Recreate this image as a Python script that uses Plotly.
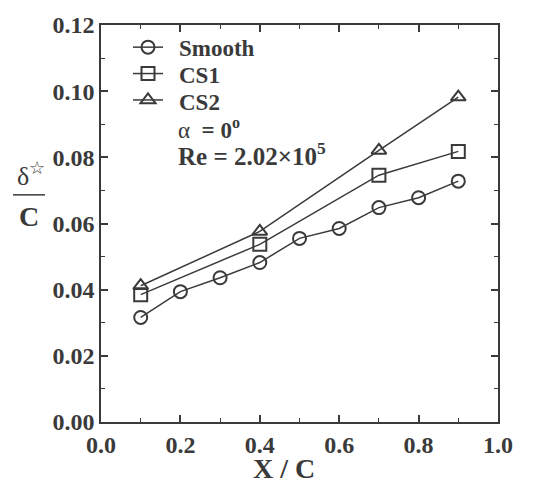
import plotly.graph_objects as go

smooth_x = [0.1, 0.2, 0.3, 0.4, 0.5, 0.6, 0.7, 0.8, 0.9]
smooth_y = [0.0316, 0.0394, 0.0436, 0.0482, 0.0555, 0.0585, 0.0648, 0.0678, 0.0728]
cs1_x = [0.1, 0.4, 0.7, 0.9]
cs1_y = [0.0385, 0.0537, 0.0746, 0.0818]
cs2_x = [0.1, 0.4, 0.7, 0.9]
cs2_y = [0.0412, 0.0576, 0.0821, 0.0982]
series_names = ["Smooth", "CS1", "CS2"]

C = "#3a3a3a"
FONT = "Liberation Serif"
W, H = 533, 485
ML, MR, MT, MB = 101, 35, 20, 63
PW, PH = W - ML - MR, H - MT - MB


def px(x):
    return (x - ML) / PW


def py(y):
    return (H - MB - y) / PH


fig = go.Figure()
for name, xs, ys, sym in [(series_names[0], smooth_x, smooth_y, "circle-open"),
                          (series_names[1], cs1_x, cs1_y, "square-open"),
                          (series_names[2], cs2_x, cs2_y, "triangle-up-open")]:
    fig.add_trace(go.Scatter(x=xs, y=ys, name=name, mode="lines+markers",
                             line=dict(color=C, width=1.5),
                             marker=dict(symbol=sym, size=13, color=C, line=dict(width=2, color=C))))

axis_common = dict(showline=True, linecolor=C, linewidth=1.5, mirror="ticks", ticks="inside",
                   ticklen=7, tickwidth=1.5, tickcolor=C, showgrid=False, zeroline=False,
                   tickfont=dict(family=FONT, size=24, color=C),
                   tickprefix="<b>", ticksuffix="</b>")
fig.update_xaxes(range=[0, 1.0], dtick=0.2, tickformat=".1f",
                 minor=dict(dtick=0.1, ticks="inside", ticklen=4, tickcolor=C, tickwidth=1.2),
                 **axis_common)
fig.update_yaxes(range=[0, 0.12], dtick=0.02, tickformat=".2f",
                 minor=dict(dtick=0.01, ticks="inside", ticklen=4, tickcolor=C, tickwidth=1.2),
                 **axis_common)

fig.update_layout(
    width=W, height=H,
    margin=dict(l=ML, r=MR, t=MT, b=MB),
    plot_bgcolor="white", paper_bgcolor="white",
    font=dict(family=FONT, color=C),
    showlegend=True,
    # native legend supplies the symbols; its own text is hidden and replaced by larger bold labels
    legend=dict(x=px(128), y=py(24), xanchor="left", yanchor="top",
                bgcolor="rgba(0,0,0,0)", font=dict(family=FONT, size=18, color="rgba(0,0,0,0)"),
                itemwidth=30, tracegroupgap=0),
)

rows = [44, 71, 98]
for name, ry in zip(series_names, rows):
    fig.add_annotation(xref="paper", yref="paper", x=px(177), y=py(ry), xanchor="left", yanchor="middle",
                       text=f"<b>{name}</b>", showarrow=False, font=dict(family=FONT, size=23, color=C))

fig.add_annotation(xref="paper", yref="paper", x=px(176), y=py(125), xanchor="left", yanchor="middle",
                   text="α  <b>= 0<sup>o</sup></b>", showarrow=False,
                   font=dict(family=FONT, size=23, color=C))
fig.add_annotation(xref="paper", yref="paper", x=px(176), y=py(151), xanchor="left", yanchor="middle",
                   text="<b>Re = 2.02×10<sup>5</sup></b>", showarrow=False,
                   font=dict(family=FONT, size=25, color=C))
# x-axis title
fig.add_annotation(xref="paper", yref="paper", x=px(284), y=py(469), xanchor="center", yanchor="middle",
                   text="<b>X / C</b>", showarrow=False, font=dict(family=FONT, size=28, color=C))
# y-axis title as fraction
fig.add_annotation(xref="paper", yref="paper", x=px(31), y=py(190), xanchor="center", yanchor="bottom",
                   text="δ<sup>☆</sup>", showarrow=False, font=dict(family=FONT, size=26, color=C))
fig.add_annotation(xref="paper", yref="paper", x=px(29), y=py(196), xanchor="center", yanchor="top",
                   text="<b>C</b>", showarrow=False, font=dict(family=FONT, size=28, color=C))
fig.add_shape(type="line", xref="paper", yref="paper", x0=px(13), x1=px(45), y0=py(192), y1=py(192),
              line=dict(color=C, width=1.5))

fig.write_html("out.html")
